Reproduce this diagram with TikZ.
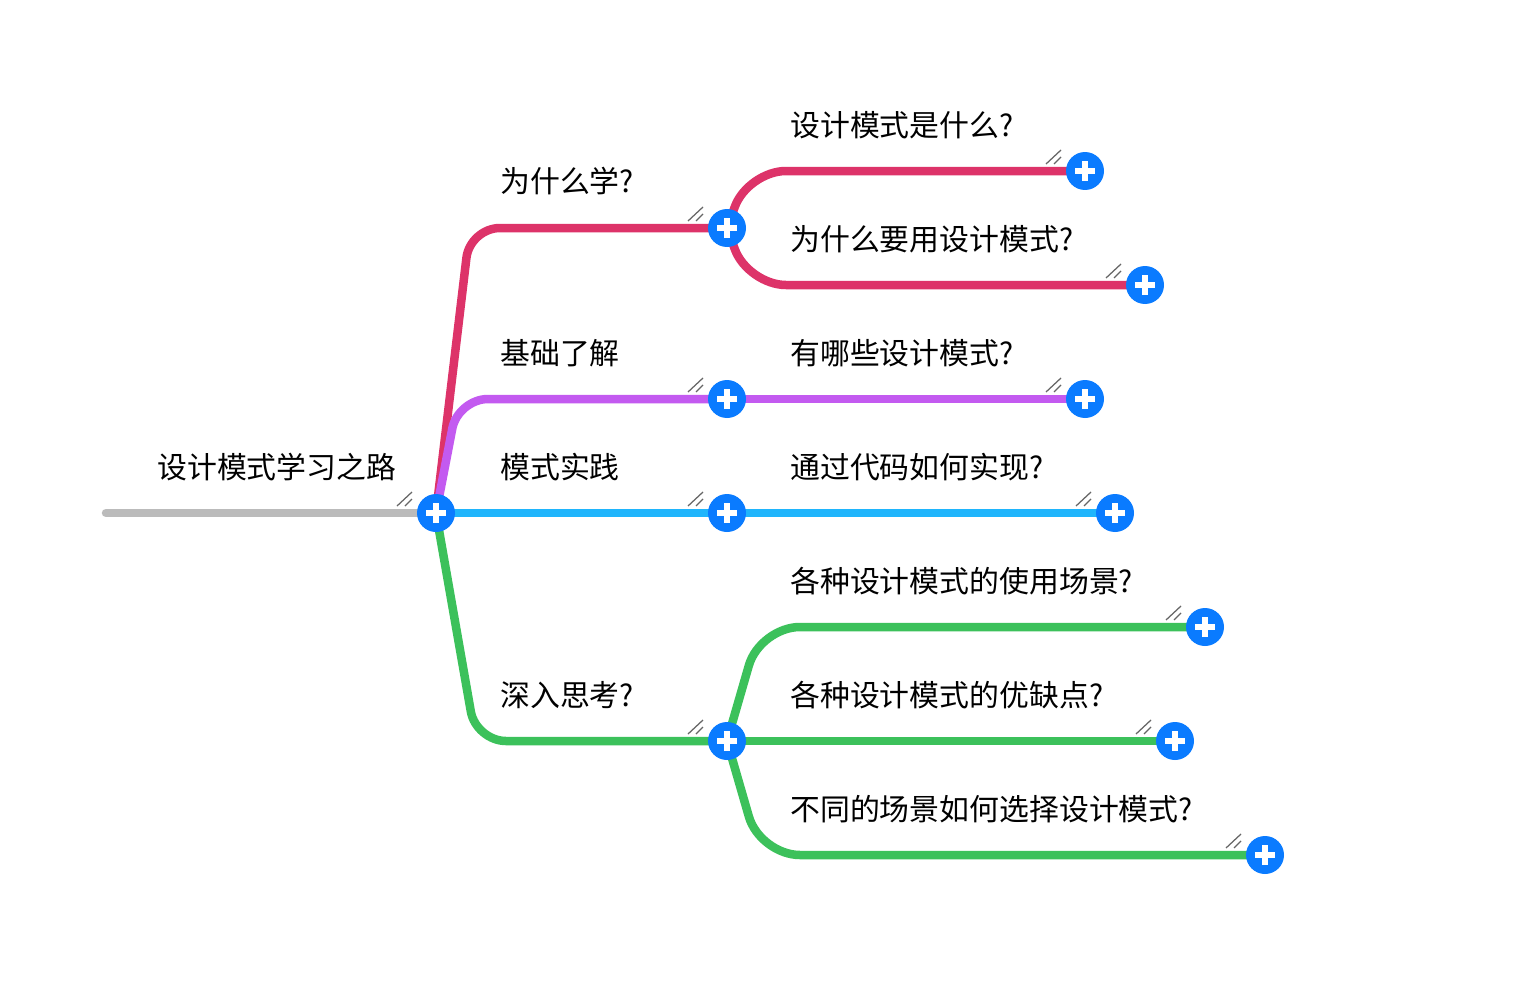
\documentclass[tikz,border=0pt]{standalone}
\usepackage{fontspec}
\newfontfamily\cjk{Noto Sans CJK SC}
\usetikzlibrary{calc, backgrounds}
\definecolor{ramaRoja}{HTML}{DD3369}
\definecolor{ramaLila}{HTML}{C35AF0}
\definecolor{ramaCian}{HTML}{1FB5FC}
\definecolor{ramaVerde}{HTML}{3CC15B}
\definecolor{ramaGris}{HTML}{BBBBBB}
\definecolor{botonAzul}{HTML}{0A7BFF}

\begin{document}
\begin{tikzpicture}[x=0.02cm, y=-0.02cm,
        boton/.style={circle, fill=botonAzul, minimum size=0.76cm, inner sep=0pt,
            path picture={\draw[white, line width=0.13cm]
                ([xshift=-0.2cm]path picture bounding box.center) -- ([xshift=0.2cm]path picture bounding box.center)
                ([yshift=-0.2cm]path picture bounding box.center) -- ([yshift=0.2cm]path picture bounding box.center);}},
        rama/.style={line width=0.17cm, line cap=round, rounded corners=0.6cm},
        texto/.style={anchor=west, inner sep=0pt, font=\cjk\fontsize{17}{20}\selectfont},
        marca/.style={gray!80!black, line width=0.025cm}]
        \useasboundingbox (0,0) rectangle (1522,984);
        % botones
        \coordinate (s) at (106,513);
        \node[boton] (c0) at (436,513) {};
        \node[boton] (c1) at (727,228) {};
        \node[boton] (c2) at (727,399) {};
        \node[boton] (c3) at (727,513) {};
        \node[boton] (c4) at (727,741) {};
        \node[boton] (l1) at (1085,171) {};
        \node[boton] (l2) at (1145,285) {};
        \node[boton] (l3) at (1085,399) {};
        \node[boton] (l4) at (1115,513) {};
        \node[boton] (l5) at (1205,627) {};
        \node[boton] (l6) at (1175,741) {};
        \node[boton] (l7) at (1265,855) {};
        % textos
        \node[texto] (t0) at (157,467) {设计模式学习之路};
        \node[texto] (t1) at (500,181) {为什么学?};
        \node[texto] (t2) at (500,353) {基础了解};
        \node[texto] (t3) at (500,467) {模式实践};
        \node[texto] (t4) at (500,695) {深入思考?};
        \node[texto] (u1) at (790,125) {设计模式是什么?};
        \node[texto] (u2) at (790,239) {为什么要用设计模式?};
        \node[texto] (u3) at (790,353) {有哪些设计模式?};
        \node[texto] (u4) at (790,467) {通过代码如何实现?};
        \node[texto] (u5) at (790,581) {各种设计模式的使用场景?};
        \node[texto] (u6) at (790,695) {各种设计模式的优缺点?};
        \node[texto] (u7) at (790,809) {不同的场景如何选择设计模式?};
        % ramas
        \begin{scope}[on background layer]
        \fill[white] (0,0) rectangle (1522,984);
        \draw[rama, ramaGris] (s) -- (c0.center);
        \draw[rama, ramaRoja] (c0.center) -- ($(c0 |- c1)+(34,0)$) -- (c1.center);
        \draw[rama, ramaLila] (c0.center) -- ($(c0 |- c2)+(22,0)$) -- (c2.center);
        \draw[rama, ramaCian] (c0.center) -- (c3.center);
        \draw[rama, ramaVerde] (c0.center) -- ($(c0 |- c4)+(40,0)$) -- (c4.center);
        \draw[rama, ramaRoja, rounded corners=0.76cm] (c1.center) -- ($(c1 |- l1)+(21,0)$) -- (l1.center);
        \draw[rama, ramaRoja, rounded corners=0.76cm] (c1.center) -- ($(c1 |- l2)+(21,0)$) -- (l2.center);
        \draw[rama, ramaLila] (c2.center) -- (l3.center);
        \draw[rama, ramaCian] (c3.center) -- (l4.center);
        \draw[rama, ramaVerde, rounded corners=0.8cm] (c4.center) -- ($(c4 |- l5)+(33,0)$) -- (l5.center);
        \draw[rama, ramaVerde] (c4.center) -- (l6.center);
        \draw[rama, ramaVerde, rounded corners=0.8cm] (c4.center) -- ($(c4 |- l7)+(33,0)$) -- (l7.center);
        \end{scope}
        % marcas
        \foreach \n in {c0,c1,c2,c3,c4,l1,l2,l3,l4,l5,l6,l7} {
            \draw[marca] ($(\n)+(-39,-7)$) -- ++(15,-14);
            \draw[marca] ($(\n)+(-31,-7)$) -- ++(7,-7);
        }
    \end{tikzpicture}
\end{document}
